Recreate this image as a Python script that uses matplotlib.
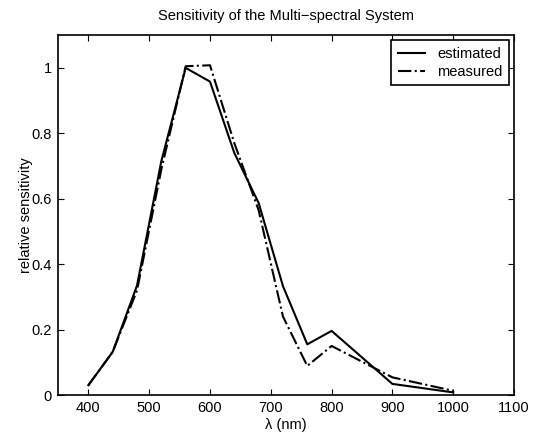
import numpy as np
import matplotlib
matplotlib.use("Agg")
import matplotlib.pyplot as plt

plt.rcParams['font.family'] = ['Liberation Sans', 'DejaVu Sans']

wavelength = [400, 440, 480, 520, 560, 600, 640, 680, 720, 760, 800, 900, 1000]
estimated = [0.03, 0.132, 0.335, 0.715, 1.0, 0.958, 0.74, 0.587, 0.333, 0.155, 0.196, 0.034, 0.008]
measured = [0.03, 0.132, 0.32, 0.69, 1.005, 1.008, 0.77, 0.565, 0.24, 0.089, 0.15, 0.054, 0.013]

fig = plt.figure(figsize=(5.39, 4.32), dpi=100)
ax = fig.add_axes([0.1076, 0.0856, 0.846, 0.833])

ax.plot(wavelength, estimated, color='black', linestyle='-', linewidth=1.5, label='estimated')
ax.plot(wavelength, measured, color='black', linestyle='-.', linewidth=1.5, label='measured')

ax.set_xlim(350, 1100)
ax.set_ylim(0, 1.1)
ax.set_xticks([400, 500, 600, 700, 800, 900, 1000, 1100])
ax.set_yticks([0, 0.2, 0.4, 0.6, 0.8, 1])
ax.set_yticklabels(['0', '0.2', '0.4', '0.6', '0.8', '1'])
ax.tick_params(direction='in', top=True, right=True, labelsize=10.5, length=4, pad=4.5)
for s in ax.spines.values():
    s.set_linewidth(1.2)

ax.set_title('Sensitivity of the Multi\u2212spectral System', fontsize=10.5, pad=11)
ax.set_xlabel('\u03bb (nm)', fontsize=10.5, va='center')
ax.xaxis.set_label_coords(0.5, -0.083)
ax.set_ylabel('relative sensitivity', fontsize=10.5, va='center')
ax.yaxis.set_label_coords(-0.07, 0.5)

leg = ax.legend(loc='upper right', fontsize=10.5, frameon=True, fancybox=False,
                edgecolor='black', framealpha=1, borderaxespad=0.35,
                handlelength=1.9, handletextpad=0.8, borderpad=0.45, labelspacing=0.28)
leg.get_frame().set_linewidth(1.2)

fig.savefig('out.png', dpi=100)
